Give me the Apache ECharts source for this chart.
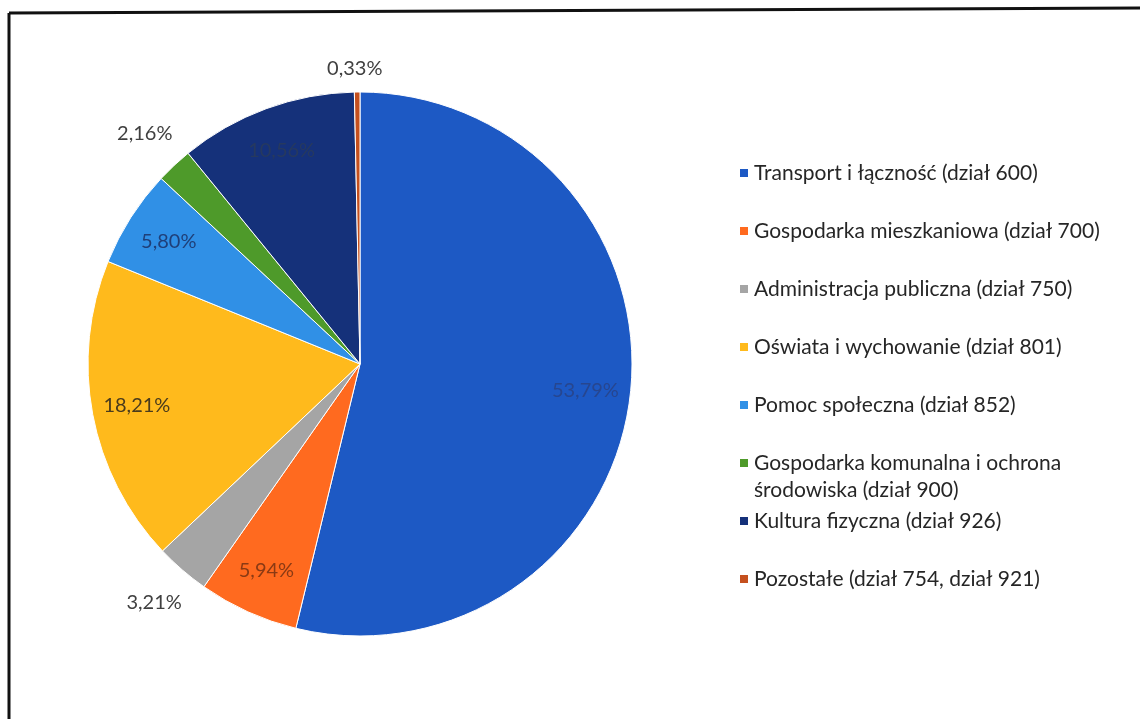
<!DOCTYPE html>
<html>
<head>
<meta charset="utf-8">
<script src="https://cdn.jsdelivr.net/npm/echarts@6/dist/echarts.min.js"></script>
<style>
html,body{margin:0;padding:0;background:#fff;}
#chart{width:1140px;height:719px;}
</style>
</head>
<body>
<div id="chart"></div>
<script>
// ---- data ----
var categories = [
  'Transport i łączność (dział 600)',
  'Gospodarka mieszkaniowa (dział 700)',
  'Administracja publiczna (dział 750)',
  'Oświata i wychowanie (dział 801)',
  'Pomoc społeczna (dział 852)',
  'Gospodarka komunalna i ochrona środowiska (dział 900)',
  'Kultura fizyczna (dział 926)',
  'Pozostałe (dział 754, dział 921)'
];
var shares = [53.79, 5.94, 3.21, 18.21, 5.80, 2.16, 10.56, 0.33];
var sliceColors = ['#1D59C4', '#FF6A1F', '#A5A5A5', '#FFBA1C', '#3090E6', '#4E9A2A', '#15317A', '#C5501E'];
var insideLabel = [true, true, false, true, true, false, true, false];
var insideLabelColors = ['#27468F', '#8A3A14', '', '#4A3B1C', '#1F3F78', '', '#26395F', ''];

var FONT = 'Lato';
var CX = 360, CY = 364, R = 272;

function fmt(v) { return v.toFixed(2).replace('.', ',') + '%'; }

var mainData = categories.map(function (c, i) {
  return { name: c, value: shares[i], itemStyle: { color: sliceColors[i] } };
});
var innerLabelData = categories.map(function (c, i) {
  return {
    name: c, value: shares[i],
    label: { show: insideLabel[i], color: insideLabelColors[i] || '#404040' }
  };
});
var outerLabelData = categories.map(function (c, i) {
  var d = { name: c, value: shares[i], label: { show: !insideLabel[i] } };
  if (i === 7) d.label.offset = [-2, 20];
  return d;
});

var chart = echarts.init(document.getElementById('chart'), null, { renderer: 'canvas' });

function legendFor(names, top, fmtFn) {
  return {
    orient: 'vertical',
    left: 733,
    top: top,
    itemWidth: 10,
    itemHeight: 10,
    itemGap: 31,
    icon: 'rect',
    selectedMode: false,
    data: names,
    formatter: fmtFn,
    textStyle: { fontFamily: FONT, fontSize: 21, color: '#262626', lineHeight: 27 }
  };
}

var option = {
  backgroundColor: '#fff',
  animation: false,
  color: sliceColors,
  graphic: [
    { type: 'line', shape: { x1: 9, y1: 13, x2: 1140, y2: 8 }, style: { stroke: '#111', lineWidth: 3 } },
    { type: 'line', shape: { x1: 9, y1: 13, x2: 9, y2: 719 }, style: { stroke: '#111', lineWidth: 3 } }
  ],
  legend: [
    legendFor(categories.slice(0, 5), 154.5),
    legendFor([categories[5]], 417.5, function () {
      return '\nGospodarka komunalna i ochrona\nśrodowiska (dział 900)';
    }),
    legendFor(categories.slice(6, 8), 502.5)
  ],
  series: [
    {
      type: 'pie',
      center: [CX, CY],
      radius: [0, R],
      startAngle: 90,
      clockwise: true,
      avoidLabelOverlap: false,
      itemStyle: { borderColor: '#fff', borderWidth: 1 },
      label: { show: false },
      labelLine: { show: false },
      data: mainData
    },
    {
      type: 'pie',
      center: [CX, CY],
      radius: [176, R],
      startAngle: 90,
      clockwise: true,
      silent: true,
      avoidLabelOverlap: false,
      itemStyle: { color: 'rgba(0,0,0,0)', borderWidth: 0 },
      label: {
        position: 'inside',
        fontFamily: FONT, fontSize: 20,
        formatter: function (p) { return fmt(p.value); }
      },
      labelLine: { show: false },
      data: innerLabelData
    },
    {
      type: 'pie',
      center: [CX, CY],
      radius: [R, R + 80],
      startAngle: 90,
      clockwise: true,
      silent: true,
      avoidLabelOverlap: false,
      itemStyle: { color: 'rgba(0,0,0,0)', borderWidth: 0 },
      label: {
        position: 'inside',
        fontFamily: FONT, fontSize: 20, color: '#404040',
        formatter: function (p) { return fmt(p.value); }
      },
      labelLine: { show: false },
      data: outerLabelData
    }
  ]
};
chart.setOption(option);
</script>
</body>
</html>
